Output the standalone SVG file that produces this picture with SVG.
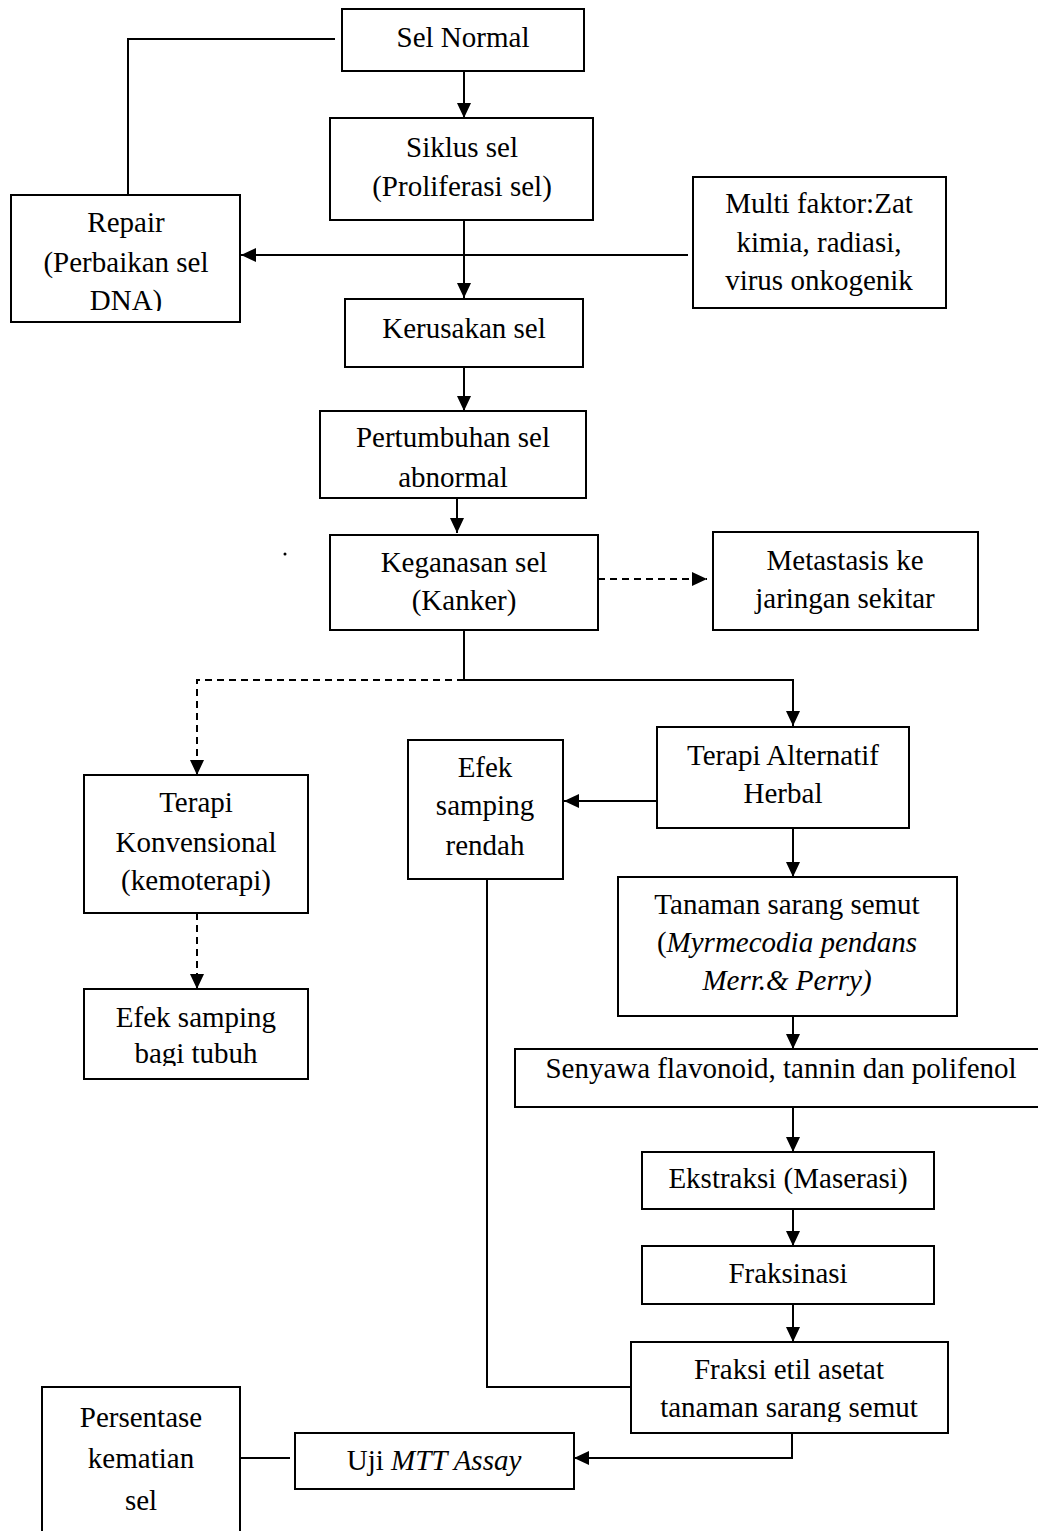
<svg xmlns="http://www.w3.org/2000/svg" width="1038" height="1531" viewBox="0 0 1038 1531">
<style>
  .box { fill: #fff; stroke: #000; stroke-width: 2; }
  .t { font-family: "Liberation Serif", "Times New Roman", serif; font-size: 29px; fill: #000; text-anchor: middle; }
  .it { font-style: italic; }
  .ln { fill: none; stroke: #000; stroke-width: 2; }
  .ds { fill: none; stroke: #000; stroke-width: 2; stroke-dasharray: 7 5; }
</style>
<defs>
  <marker id="ah" markerUnits="userSpaceOnUse" markerWidth="15" markerHeight="14" refX="15" refY="7" orient="auto">
    <path d="M0,0 L15,7 L0,14 z" fill="#000"/>
  </marker>
  <clipPath id="cRepair"><rect x="11" y="196" width="228" height="115"/></clipPath>
  <clipPath id="cEfekTubuh"><rect x="85" y="990" width="222" height="76"/></clipPath>
  <clipPath id="cFraksi"><rect x="631" y="1343" width="317" height="79"/></clipPath>
</defs>
<rect x="0" y="0" width="1038" height="1531" fill="#fff"/>

<g id="connectors">
  <polyline class="ln" points="335,39 128,39 128,195"/>
  <line class="ln" x1="464" y1="71" x2="464" y2="118" marker-end="url(#ah)"/>
  <line class="ln" x1="464" y1="220" x2="464" y2="298" marker-end="url(#ah)"/>
  <line class="ln" x1="688" y1="255" x2="241" y2="255" marker-end="url(#ah)"/>
  <line class="ln" x1="464" y1="367" x2="464" y2="411" marker-end="url(#ah)"/>
  <line class="ln" x1="457" y1="498" x2="457" y2="533" marker-end="url(#ah)"/>
  <line class="ds" x1="598" y1="579" x2="707" y2="579" marker-end="url(#ah)"/>
  <polyline class="ln" points="464,630 464,680 793,680 793,726" marker-end="url(#ah)"/>
  <polyline class="ds" points="464,680 197,680 197,775" marker-end="url(#ah)"/>
  <line class="ds" x1="197" y1="913" x2="197" y2="989" marker-end="url(#ah)"/>
  <line class="ln" x1="657" y1="801" x2="564" y2="801" marker-end="url(#ah)"/>
  <line class="ln" x1="793" y1="828" x2="793" y2="877" marker-end="url(#ah)"/>
  <line class="ln" x1="793" y1="1016" x2="793" y2="1049" marker-end="url(#ah)"/>
  <line class="ln" x1="793" y1="1107" x2="793" y2="1152" marker-end="url(#ah)"/>
  <line class="ln" x1="793" y1="1209" x2="793" y2="1246" marker-end="url(#ah)"/>
  <line class="ln" x1="793" y1="1304" x2="793" y2="1342" marker-end="url(#ah)"/>
  <polyline class="ln" points="487,879 487,1387 631,1387"/>
  <polyline class="ln" points="792,1433 792,1458 574,1458" marker-end="url(#ah)"/>
  <line class="ln" x1="241" y1="1458" x2="290" y2="1458"/>
</g>

<g id="sel-normal">
  <rect class="box" x="342" y="9" width="242" height="62"/>
  <text class="t" x="463" y="47">Sel Normal</text>
</g>
<g id="siklus-sel">
  <rect class="box" x="330" y="118" width="263" height="102"/>
  <text class="t" x="462" y="157">Siklus sel</text>
  <text class="t" x="462" y="196">(Proliferasi sel)</text>
</g>
<g id="repair">
  <rect class="box" x="11" y="195" width="229" height="127"/>
  <g clip-path="url(#cRepair)">
    <text class="t" x="126" y="232">Repair</text>
    <text class="t" x="126" y="272">(Perbaikan sel</text>
    <text class="t" x="126" y="310">DNA)</text>
  </g>
</g>
<g id="multi-faktor">
  <rect class="box" x="693" y="177" width="253" height="131"/>
  <text class="t" x="819" y="213">Multi faktor:Zat</text>
  <text class="t" x="819" y="252">kimia, radiasi,</text>
  <text class="t" x="819" y="290">virus onkogenik</text>
</g>
<g id="kerusakan-sel">
  <rect class="box" x="345" y="299" width="238" height="68"/>
  <text class="t" x="464" y="338">Kerusakan sel</text>
</g>
<g id="pertumbuhan">
  <rect class="box" x="320" y="411" width="266" height="87"/>
  <text class="t" x="453" y="447">Pertumbuhan sel</text>
  <text class="t" x="453" y="487">abnormal</text>
</g>
<circle cx="285" cy="554" r="1.5" fill="#000"/>
<g id="keganasan">
  <rect class="box" x="330" y="535" width="268" height="95"/>
  <text class="t" x="464" y="572">Keganasan sel</text>
  <text class="t" x="464" y="610">(Kanker)</text>
</g>
<g id="metastasis">
  <rect class="box" x="713" y="532" width="265" height="98"/>
  <text class="t" x="845" y="570">Metastasis ke</text>
  <text class="t" x="845" y="608">jaringan sekitar</text>
</g>
<g id="terapi-konvensional">
  <rect class="box" x="84" y="775" width="224" height="138"/>
  <text class="t" x="196" y="812">Terapi</text>
  <text class="t" x="196" y="852">Konvensional</text>
  <text class="t" x="196" y="890">(kemoterapi)</text>
</g>
<g id="efek-samping-tubuh">
  <rect class="box" x="84" y="989" width="224" height="90"/>
  <g clip-path="url(#cEfekTubuh)">
    <text class="t" x="196" y="1027">Efek samping</text>
    <text class="t" x="196" y="1063">bagi tubuh</text>
  </g>
</g>
<g id="efek-samping-rendah">
  <rect class="box" x="408" y="740" width="155" height="139"/>
  <text class="t" x="485" y="777">Efek</text>
  <text class="t" x="485" y="815">samping</text>
  <text class="t" x="485" y="855">rendah</text>
</g>
<g id="terapi-alternatif">
  <rect class="box" x="657" y="727" width="252" height="101"/>
  <text class="t" x="783" y="765">Terapi Alternatif</text>
  <text class="t" x="783" y="803">Herbal</text>
</g>
<g id="tanaman">
  <rect class="box" x="618" y="877" width="339" height="139"/>
  <text class="t" x="787" y="914">Tanaman sarang semut</text>
  <text class="t" x="787" y="952">(<tspan class="it">Myrmecodia pendans</tspan></text>
  <text class="t it" x="787" y="990">Merr.&amp; Perry)</text>
</g>
<g id="senyawa">
  <rect class="box" x="515" y="1049" width="530" height="58"/>
  <text class="t" x="781" y="1078">Senyawa flavonoid, tannin dan polifenol</text>
</g>
<g id="ekstraksi">
  <rect class="box" x="642" y="1152" width="292" height="57"/>
  <text class="t" x="788" y="1188">Ekstraksi (Maserasi)</text>
</g>
<g id="fraksinasi">
  <rect class="box" x="642" y="1246" width="292" height="58"/>
  <text class="t" x="788" y="1283">Fraksinasi</text>
</g>
<g id="fraksi-etil">
  <rect class="box" x="631" y="1342" width="317" height="91"/>
  <g clip-path="url(#cFraksi)">
    <text class="t" x="789" y="1379">Fraksi etil asetat</text>
    <text class="t" x="789" y="1417">tanaman sarang semut</text>
  </g>
</g>
<g id="uji-mtt">
  <rect class="box" x="295" y="1433" width="279" height="56"/>
  <text class="t" x="434" y="1470">Uji <tspan class="it">MTT Assay</tspan></text>
</g>
<g id="persentase">
  <path class="box" d="M42,1532 L42,1387 L240,1387 L240,1532"/>
  <text class="t" x="141" y="1427">Persentase</text>
  <text class="t" x="141" y="1468">kematian</text>
  <text class="t" x="141" y="1510">sel</text>
</g>
</svg>
